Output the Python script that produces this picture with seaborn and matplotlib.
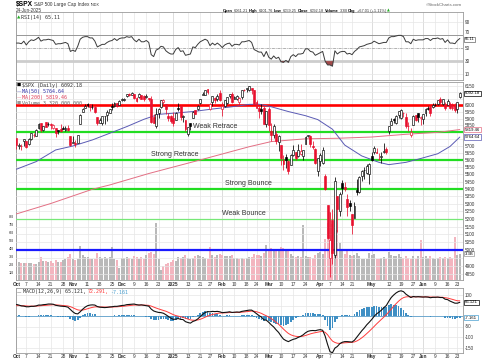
import numpy as np
import pandas as pd
import matplotlib
matplotlib.use("Agg")
import matplotlib.pyplot as plt
import seaborn as sns
from matplotlib.ticker import FixedLocator, NullLocator

# ---------------- data ----------------
start, end = "2024-10-01", "2025-06-24"
holidays = ["2024-11-28", "2024-12-25", "2025-01-01", "2025-01-09", "2025-01-20",
            "2025-02-17", "2025-04-18", "2025-05-26", "2025-06-19"]

opens = [5757, 5698, 5698, 5738, 5737, 5714, 5751, 5779, 5775, 5829, 5866, 5816, 5875, 5859, 5857, 5832, 5834, 5816, 5827, 5833, 5817, 5833, 5776,
         5723, 5725, 5722, 5863, 5947, 5977, 6009, 6003, 5986, 5989, 5912, 5870, 5870, 5918, 5924, 5945, 5993, 5992, 6015, 6004,
         6040, 6042, 6069, 6089, 6082, 6083, 6057, 6060, 6075, 6069, 6063, 6053, 6048, 5913, 5842, 5941, 5985, 6024, 6007, 5920, 5920,
         5903, 5891, 5983, 5994, 5911, 5891, 5789, 5865, 5905, 5962, 5973, 6015, 6081, 6077, 6121, 5970, 6026, 6058, 6050, 6097,
         5970, 5998, 6021, 6073, 6083, 6047, 6050, 6026, 6061, 6115, 6122, 6118, 6134, 6114, 6027, 5983, 5970, 5982, 5857,
         5969, 5812, 5782, 5785, 5726, 5705, 5604, 5624, 5594, 5564, 5635, 5654, 5632, 5646, 5631, 5718, 5776, 5771, 5701, 5679, 5527,
         5597, 5581, 5492, 5292, 4953, 5193, 4966, 5353, 5255, 5441, 5411, 5335, 5306, 5232, 5207, 5395, 5381, 5489, 5529, 5508, 5500,
         5626, 5655, 5655, 5605, 5619, 5658, 5679, 5808, 5854, 5896, 5869, 5929, 5903, 5945, 5910, 5842, 5781, 5855, 5925, 5939, 5904,
         5897, 5939, 5978, 5985, 5987, 6004, 6010, 6049, 6009, 6000, 6005, 6013, 5987, 6005, 5970, 6061.21]
highs = [5757, 5722, 5718, 5751, 5739, 5757, 5796, 5796, 5822, 5871, 5870, 5843, 5878, 5873, 5867, 5864, 5834, 5818, 5862, 5842, 5848, 5851, 5776,
         5772, 5741, 5783, 5937, 5983, 6013, 6018, 6009, 6008, 5993, 5915, 5908, 5920, 5920, 5963, 5973, 6020, 6026, 6021, 6044,
         6053, 6052, 6089, 6092, 6099, 6088, 6065, 6093, 6079, 6078, 6086, 6057, 6071, 5936, 5982, 5979, 6040, 6049, 6007, 5941, 5930,
         5949, 5950, 6021, 6000, 5928, 5891, 5837, 5871, 5960, 5964, 6006, 6051, 6100, 6119, 6128, 6018, 6070, 6063, 6087, 6120,
         6022, 6042, 6062, 6084, 6101, 6073, 6076, 6064, 6116, 6127, 6129, 6147, 6134, 6114, 6043, 5992, 6009, 5994, 5959,
         5987, 5866, 5861, 5812, 5783, 5705, 5636, 5642, 5598, 5645, 5704, 5654, 5715, 5711, 5670, 5775, 5782, 5783, 5733, 5685, 5616,
         5651, 5695, 5500, 5292, 5246, 5267, 5481, 5353, 5381, 5459, 5450, 5367, 5328, 5232, 5309, 5470, 5489, 5528, 5554, 5572, 5581,
         5659, 5700, 5684, 5647, 5655, 5721, 5691, 5847, 5906, 5906, 5925, 5958, 5969, 5953, 5939, 5878, 5829, 5924, 5929, 5943, 5923,
         5938, 5982, 5991, 5999, 6016, 6021, 6043, 6060, 6046, 6027, 6050, 6024, 6019, 6018, 6026, 6101.76]
lows = [5681, 5677, 5675, 5702, 5683, 5708, 5745, 5762, 5775, 5824, 5804, 5806, 5840, 5844, 5825, 5822, 5762, 5785, 5800, 5824, 5811, 5812, 5703,
        5723, 5696, 5722, 5862, 5947, 5977, 5986, 5960, 5975, 5942, 5853, 5866, 5850, 5860, 5883, 5944, 5963, 5986, 5984, 6004,
        6033, 6034, 6061, 6071, 6080, 6047, 6026, 6054, 6050, 6035, 6059, 6035, 5867, 5866, 5832, 5903, 5981, 6007, 5933, 5879, 5870,
        5845, 5889, 5960, 5891, 5874, 5809, 5774, 5813, 5905, 5936, 5967, 6007, 6076, 6075, 6088, 5962, 5994, 6014, 6034, 6031,
        5923, 5990, 6007, 6058, 6020, 6045, 6043, 6003, 6051, 6107, 6099, 6111, 6084, 6009, 5977, 5908, 5932, 5858, 5837,
        5810, 5733, 5759, 5712, 5667, 5565, 5529, 5546, 5505, 5563, 5628, 5598, 5622, 5633, 5603, 5718, 5765, 5695, 5682, 5573, 5489,
        5558, 5571, 5390, 5069, 4835, 4910, 4950, 5115, 5220, 5367, 5386, 5220, 5255, 5101, 5207, 5359, 5371, 5455, 5468, 5505, 5433,
        5597, 5643, 5647, 5598, 5578, 5649, 5644, 5786, 5853, 5868, 5861, 5908, 5895, 5911, 5831, 5809, 5768, 5855, 5884, 5875, 5850,
        5861, 5919, 5966, 5921, 5978, 5994, 6000, 6003, 6006, 5964, 6005, 5975, 5967, 5952, 5943, 6059.25]
closes = [5709, 5709.5, 5700, 5751, 5696, 5751, 5792, 5780, 5815, 5859, 5815, 5842, 5841, 5864, 5853, 5851, 5797, 5809, 5808, 5823, 5832, 5813, 5705,
          5729, 5712, 5782, 5929, 5973, 5996, 6001, 5984, 5985, 5949, 5871, 5893, 5917, 5917.1, 5949, 5969, 5987, 6021, 5998, 6032,
          6047, 6050, 6087, 6075, 6090, 6053, 6034, 6084, 6051.3, 6051.1, 6074, 6050, 5872, 5867, 5931, 5975, 6040, 6037, 5971, 5907, 5882,
          5869, 5942, 5975, 5909, 5918, 5827, 5836, 5843, 5950, 5937, 5997, 6049, 6086, 6119, 6101, 6012, 6068, 6039, 6071, 6041,
          5994, 6038, 6061, 6083, 6026, 6066, 6068, 6052, 6115.1, 6114.6, 6129, 6144, 6117, 6013, 5983, 5955, 5956, 5861, 5955,
          5850, 5778, 5842, 5739, 5770, 5615, 5572, 5599, 5522, 5639, 5675, 5615, 5675, 5663, 5668, 5768, 5777, 5712, 5693, 5581, 5612,
          5633, 5671, 5397, 5074, 5062, 4982, 5457, 5268, 5363, 5406, 5397, 5276, 5283, 5158, 5288, 5376, 5485, 5525, 5529, 5561, 5569,
          5604, 5687, 5650, 5607, 5631, 5664, 5660, 5844, 5886, 5892, 5916, 5958, 5964, 5940, 5845, 5842, 5802, 5922, 5889, 5912.2, 5911.7,
          5936, 5970, 5971, 5939, 6000, 6006, 6039, 6022, 6045, 5977, 6033, 5982, 5981, 5967, 6025, 6092.18]
prev_close0 = 5762.5
volumes_b = [2.7, 2.3, 2.2, 2.2, 2.1, 2.1, 2.2, 2.0, 2.0, 2.3, 2.9, 2.4, 2.4, 2.3, 2.4, 2.2, 2.5, 2.3, 2.3, 2.5, 2.7, 2.9, 3.3,
             2.6, 2.5, 2.6, 4.3, 3.2, 2.9, 2.9, 2.7, 2.6, 2.6, 3.4, 2.9, 2.8, 2.9, 2.8, 2.9, 4.1, 2.6, 2.5, 1.5,
             2.8, 2.8, 2.9, 2.8, 2.6, 3.0, 2.9, 2.7, 2.9, 2.6, 3.2, 3.4, 3.5, 3.3, 7.2, 2.6, 1.3, 1.8, 2.0, 2.1, 2.3,
             2.5, 2.4, 2.9, 2.8, 2.9, 3.1, 2.8, 2.7, 2.8, 3.0, 3.1, 3.0, 2.9, 2.8, 2.6, 4.1, 3.1, 2.9, 3.2, 3.3,
             3.2, 3.0, 3.0, 3.0, 3.1, 2.8, 2.8, 2.7, 2.8, 2.6, 2.8, 2.9, 2.9, 3.3, 3.1, 3.2, 3.0, 3.4, 4.4,
             3.8, 4.0, 3.6, 3.9, 3.7, 4.2, 4.0, 3.7, 3.6, 3.3, 3.0, 2.9, 3.0, 2.9, 6.9, 3.0, 2.9, 2.9, 2.8, 3.1, 3.4,
             3.5, 3.3, 5.2, 7.2, 8.6, 7.0, 8.3, 6.3, 4.6, 3.8, 3.3, 3.6, 3.2, 3.0, 3.2, 3.4, 3.0, 2.7, 2.6, 2.7, 3.4,
             3.2, 3.3, 2.7, 2.6, 2.8, 2.9, 2.6, 3.5, 3.2, 3.0, 3.0, 3.3, 2.9, 2.8, 3.0, 2.8, 2.6, 3.0, 2.7, 3.0, 5.0,
             2.9, 3.0, 2.8, 3.0, 2.8, 2.7, 2.8, 2.9, 2.8, 2.9, 2.8, 2.9, 2.8, 5.4, 3.1, 3.3]
rsi14 = [58, 58, 57, 61, 55, 60, 63, 62, 64, 67, 61, 63, 63, 64, 63, 62, 56, 57, 57, 58, 59, 57, 45,
         47, 45, 53, 64, 67, 68, 68, 66, 66, 61, 52, 54, 56, 56, 59, 61, 62, 65, 62, 65,
         66, 66, 68, 67, 68, 63, 60, 64, 60, 60, 62, 59, 40, 37, 47, 49, 53, 52, 46, 43, 41,
         41, 48, 51, 45, 46, 39, 40, 41, 52, 51, 56, 60, 62, 64, 62, 54, 58, 55, 58, 55,
         51, 55, 57, 58, 53, 56, 56, 55, 60, 60, 61, 62, 59, 48, 46, 44, 44, 37, 45,
         36, 33, 38, 34, 36, 29, 28, 31, 28, 37, 40, 37, 41, 41, 42, 49, 49, 45, 44, 39, 41,
         43, 45, 30, 24, 24, 22, 46, 41, 44, 45, 45, 41, 42, 40, 45, 48, 52, 53, 54, 56, 57,
         58, 61, 59, 57, 58, 59, 59, 66, 68, 68, 69, 70, 70, 68, 60, 60, 57, 64, 62, 63, 63,
         63, 65, 65, 62, 65, 65, 66, 64, 65, 59, 63, 58, 58, 57, 62, 65.11]
macd_line = [55, 52, 48, 47, 44, 44, 46, 46, 48, 52, 52, 54, 55, 57, 57, 56, 51, 49, 47, 46, 45, 42, 31,
             20, 12, 10, 20, 32, 42, 49, 52, 53, 52, 45, 42, 41, 40, 41, 43, 44, 46, 46, 48,
             50, 51, 54, 55, 56, 57, 54, 52, 53, 51, 49, 47, 33, 24, 20, 17, 16, 13, 6, -2, -10,
             -16, -15, -12, -16, -17, -27, -31, -34, -26, -22, -14, -3, 8, 16, 21, 20, 22, 21, 22, 20,
             16, 17, 18, 20, 17, 18, 19, 18, 22, 24, 26, 28, 28, 20, 11, 2, -5, -18, -20,
             -30, -42, -52, -66, -78, -95, -110, -117, -122, -116, -111, -108, -102, -97, -90, -80, -73, -70, -69, -70, -67,
             -65, -68, -95, -135, -170, -175, -153, -145, -132, -125, -122, -122, -123, -124, -115, -100, -85, -70, -57, -42, -30,
             -17, -2, 10, 18, 28, 40, 50, 70, 88, 100, 110, 117, 120, 116, 104, 96, 88, 93, 91, 92, 91,
             90, 91, 90, 87, 89, 89, 90, 88, 88, 80, 78, 71, 66, 61, 61, 65.121]
macd_signal = [49, 49.6, 49.3, 48.8, 47.9, 47.1, 46.9, 46.7, 47.0, 48.0, 48.8, 49.8, 50.9, 52.1, 53.1, 53.7, 53.1, 52.3, 51.2, 50.2, 49.2, 47.7, 44.4,
               39.5, 34.0, 29.2, 27.4, 28.3, 31.0, 34.6, 38.1, 41.1, 43.3, 43.6, 43.3, 42.8, 42.2, 42.0, 42.2, 42.6, 43.3, 43.8, 44.6,
               45.7, 46.8, 48.2, 49.6, 50.9, 52.1, 52.5, 52.4, 52.5, 52.2, 51.6, 50.7, 47.2, 42.5, 38.0, 33.8, 30.2, 26.8, 22.6, 17.7, 12.2,
               6.5, 2.2, -0.6, -3.7, -6.4, -10.5, -14.6, -18.5, -20.0, -20.4, -19.1, -15.9, -11.1, -5.7, -0.4, 3.7, 7.4, 10.1, 12.5, 14.0,
               14.4, 14.9, 15.5, 16.4, 16.5, 16.8, 17.2, 17.4, 18.3, 19.4, 20.7, 22.2, 23.4, 22.7, 20.4, 16.7, 12.4, 6.3, 1.0,
               -5.2, -12.6, -20.5, -29.6, -39.3, -50.4, -62.3, -73.2, -83.0, -89.6, -93.9, -96.7, -97.8, -97.6, -96.1, -92.9, -88.9, -85.1, -81.9, -79.5, -77.0,
               -74.6, -73.3, -77.6, -89.1, -105.3, -119.2, -126.0, -129.8, -130.2, -129.2, -127.7, -126.6, -125.9, -125.5, -123.4, -118.7, -112.0, -103.6, -94.3, -83.8, -73.1,
               -61.8, -49.9, -37.9, -26.7, -15.8, -4.6, 6.3, 19.1, 32.8, 46.3, 59.0, 70.6, 80.5, 87.6, 90.9, 91.9, 91.1, 91.5, 91.4, 91.5, 91.4,
               91.1, 91.1, 90.9, 90.1, 89.9, 89.7, 89.8, 89.4, 89.1, 87.3, 85.4, 82.5, 79.2, 75.6, 72.6, 72.291]
ma50_day = [0, 8, 16, 23, 31, 38, 45, 52, 58, 67, 72, 80, 88, 95, 99, 104, 111, 118, 123, 129, 134, 141, 148, 152, 159, 165, 172, 177, 181]
ma50_val = [5536, 5589, 5672, 5700, 5744, 5792, 5841, 5895, 5932, 5945, 5953, 5972, 5989, 6007, 6008, 5989, 5953, 5922, 5893, 5822, 5707, 5629,
            5584, 5568, 5584, 5611, 5645, 5697, 5764.64]
ma200_day = [0, 14, 31, 38, 54, 75, 95, 104, 118, 131, 145, 159, 172, 181]
ma200_val = [5233, 5302, 5398, 5427, 5506, 5601, 5695, 5732, 5752, 5756, 5765, 5785, 5799, 5819.46]

tick_dates = ["2024-10-01", "2024-10-07", "2024-10-14", "2024-10-21", "2024-10-28", "2024-11-01", "2024-11-11", "2024-11-18",
              "2024-11-25", "2024-12-02", "2024-12-09", "2024-12-16", "2024-12-23", "2025-01-02", "2025-01-13", "2025-01-21",
              "2025-01-27", "2025-02-03", "2025-02-10", "2025-02-18", "2025-02-24", "2025-03-03", "2025-03-10", "2025-03-17",
              "2025-03-24", "2025-04-01", "2025-04-07", "2025-04-14", "2025-04-21", "2025-05-01", "2025-05-12", "2025-05-19",
              "2025-05-27", "2025-06-02", "2025-06-09", "2025-06-16", "2025-06-23"]
tick_labels = ["Oct", "7", "14", "21", "28", "Nov", "11", "18", "25", "Dec", "9", "16", "23", "2025", "13", "21", "27",
               "Feb", "10", "18", "24", "Mar", "10", "17", "24", "Apr", "7", "14", "21", "May", "12", "19", "27",
               "Jun", "9", "16", "23"]

level_prices = [6000, 5800, 5600, 5400, 5200, 5000]
level_names = ["", "Weak Retrace", "Strong Retrace", "Strong Bounce", "Weak Bounce", ""]
price_ticks = list(range(4850, 6151, 50))
price_hidden = [6100, 6050, 5800, 5750, 4950]      # covered by value boxes in the reference
rsi_ticks = [10, 30, 50, 70, 90]
macd_ticks = [100, 50, 0, -50, -100, -150]
macd_hidden = [50, 0]
vol_ticks = [1, 2, 3, 4, 5, 6, 7, 8]

# ---------------- derived ----------------
dates = pd.bdate_range(start, end)
dates = dates[~dates.isin(pd.to_datetime(holidays))]
n = len(dates)
pos = {d: i for i, d in enumerate(dates)}
tick_pos = [pos[pd.Timestamp(d)] for d in tick_dates]
is_month = [not lab.isdigit() or lab == "2025" for lab in tick_labels]

o = np.array(opens, float); h = np.array(highs, float)
l = np.array(lows, float); c = np.array(closes, float)
prev = np.concatenate([[prev_close0], c[:-1]])
x = np.arange(n)
RED = "#e8102e"
col = np.where(c >= prev, "#000000", RED)
hollow = c >= o
vol = np.array(volumes_b)
vol_col = np.where(c >= prev, "#b9b9b9", "#f3b5bf")
macd = np.array(macd_line); sig = np.array(macd_signal)
hist = macd - sig

# ---------------- figure ----------------
sns.set_theme(style="white")
plt.rcParams['font.family'] = ['Liberation Sans', 'DejaVu Sans']
W, H = 485, 360
fig = plt.figure(figsize=(W / 100, H / 100), dpi=100)
fig.patch.set_facecolor("white")
L, R = 16, 463


def rect(t, b):
    return [L / W, 1 - b / H, (R - L) / W, (b - t) / H]


XL = (-0.2, 182.3)
GRID = "#e6e6e6"
MGRID = "#cfcfcf"
TXT = "#333333"
FS = 3.3


def style_axis(ax):
    ax.set_xlim(*XL)
    for s in ax.spines.values():
        s.set_color("#9a9a9a"); s.set_linewidth(0.6)
    ax.tick_params(axis="both", length=0, labelsize=FS, colors=TXT, pad=1.5)
    for tp, m in zip(tick_pos, is_month):
        ax.axvline(tp, color=MGRID if m else GRID, lw=0.5, zorder=0)


MACD_TOP, MACD_BOT, MACD_ZERO, MACD_PX = 288, 352.5, 316.0, 0.21
ax_rsi = fig.add_axes(rect(12, 80))
ax_vol = fig.add_axes(rect(82, 280))
ax_px = fig.add_axes(rect(82, 280))
ax_macd = fig.add_axes(rect(MACD_TOP, MACD_BOT))
ax_vol.set_zorder(1); ax_px.set_zorder(2); ax_px.patch.set_alpha(0)

# ---- RSI ----
style_axis(ax_rsi)
ax_rsi.set_ylim(0.6, 106.3)
for v in rsi_ticks:
    ax_rsi.axhline(v, color=GRID, lw=0.5, zorder=0)
ax_rsi.axhline(30, color="#cdcdcd", lw=2.0, zorder=1)
ax_rsi.axhline(70, color="#8a8a8a", lw=0.6, zorder=1)
ax_rsi.axhline(50, color="#999999", lw=0.5, ls=(0, (4, 1.5, 1, 1.5)), zorder=1)
r = np.array(rsi14, float)
ax_rsi.fill_between(x, r, 30, where=r < 30, interpolate=True, color="#a24a4a", zorder=2, lw=0)
sns.lineplot(x=x, y=r, ax=ax_rsi, color="#3a3a3a", linewidth=0.7, zorder=3)
ax_rsi.set_xticks([]); ax_rsi.set_xlabel(""); ax_rsi.set_ylabel("")
ax_rsi.yaxis.tick_right()
ax_rsi.set_yticks(rsi_ticks)
ax_rsi.set_yticklabels([str(v) for v in rsi_ticks])
for t in ax_rsi.get_yticklabels():
    if t.get_text() == "70":
        t.set_va("bottom")

# ---- volume (under price) ----
style_axis(ax_vol)
ax_vol.set_ylim(0, (280 - 82) / 7.95)
ax_vol.bar(x, vol, width=0.82, color=vol_col, lw=0, zorder=1)
ax_vol.set_xticks([])
ax_vol.set_yticks(vol_ticks)
ax_vol.set_yticklabels([f"{v}B" for v in vol_ticks])
ax_vol.yaxis.tick_left()
ax_vol.tick_params(axis="y", labelsize=3.0, pad=1.5)

# ---- price ----
ax_px.set_yscale("log")
ax_px.set_ylim(4815, 6178.7)
ax_px.set_xlim(*XL)
for s in ax_px.spines.values():
    s.set_visible(False)
for v in price_ticks:
    ax_px.axhline(v, color=GRID, lw=0.5, zorder=0)
ax_px.yaxis.set_major_locator(FixedLocator(price_ticks))
ax_px.yaxis.set_minor_locator(NullLocator())
ax_px.set_yticklabels(["" if v in price_hidden else str(v) for v in price_ticks])
ax_px.yaxis.tick_right()
ax_px.tick_params(axis="both", length=0, labelsize=FS, colors=TXT, pad=1.5)

# annotation levels
lv_style = {6000: ("#ff0000", 1.9), 5800: ("#22dd22", 1.6), 5600: ("#22dd22", 1.6),
            5400: ("#22dd22", 1.6), 5200: ("#77e877", 0.9), 5000: ("#1a1aff", 1.6)}
for p in level_prices:
    cc, lw = lv_style[p]
    ax_px.axhline(p, color=cc, lw=lw, zorder=2)
lab_x = {"Weak Retrace": 72, "Strong Retrace": 55, "Strong Bounce": 85, "Weak Bounce": 84}
for p, name in zip(level_prices, level_names):
    if name:
        ax_px.text(lab_x[name], p * 1.0028, name, fontsize=5.0, color=TXT, ha="left", va="bottom", zorder=3)

# MAs
sns.lineplot(x=ma200_day, y=ma200_val, ax=ax_px, color="#e36f84", linewidth=0.7, zorder=3)
sns.lineplot(x=ma50_day, y=ma50_val, ax=ax_px, color="#5a5ab4", linewidth=0.7, zorder=3)

# candles
ax_px.vlines(x, l, h, colors=col, lw=0.55, zorder=4)
lo = np.minimum(o, c); hi = np.maximum(o, c)
hi = np.where(hi - lo < 1.5, lo + 1.5, hi)
face = np.where(hollow, "white", col)
ax_px.bar(x, hi - lo, bottom=lo, width=0.78, color=face, edgecolor=col, linewidth=0.45, zorder=5)
ax_px.set_xticks(tick_pos)
ax_px.set_xticklabels(tick_labels)
for t, m in zip(ax_px.get_xticklabels(), is_month):
    t.set_fontweight("bold" if m else "normal")
ax_px.tick_params(axis="x", pad=1.2, labelsize=3.4)
ax_px.set_xlabel(""); ax_px.set_ylabel("")

# ---- MACD ----
style_axis(ax_macd)
ax_macd.set_ylim((MACD_ZERO - MACD_BOT) / MACD_PX, (MACD_ZERO - MACD_TOP) / MACD_PX)
for v in macd_ticks:
    ax_macd.axhline(v, color=GRID, lw=0.5, zorder=0)
ax_macd.bar(x, hist, width=0.72, color="#3f8fc4", lw=0, zorder=2)
ax_macd.axhline(0, color="#3f8fc4", lw=0.5, zorder=2)
sns.lineplot(x=x, y=sig, ax=ax_macd, color="#ff3b3b", linewidth=0.7, zorder=3)
sns.lineplot(x=x, y=macd, ax=ax_macd, color="#111111", linewidth=0.8, zorder=4)
ax_macd.yaxis.tick_right()
ax_macd.set_yticks(macd_ticks)
ax_macd.set_yticklabels(["" if v in macd_hidden else str(v) for v in macd_ticks])
ax_macd.set_xticks(tick_pos)
ax_macd.set_xticklabels(tick_labels)
for t, m in zip(ax_macd.get_xticklabels(), is_month):
    t.set_fontweight("bold" if m else "normal")
ax_macd.tick_params(axis="x", pad=0.8, labelsize=3.4)
ax_macd.set_xlabel(""); ax_macd.set_ylabel("")


# ---------------- texts ----------------
def ftext(px, py, s, **kw):
    kw.setdefault("va", "center")
    kw.setdefault("ha", "left")
    kw.setdefault("color", TXT)
    return fig.text(px / W, 1 - py / H, s, **kw)


renderer = fig.canvas.get_renderer()


def seq(px, py, pieces, gap=1.2):
    for s, kw in pieces:
        t = ftext(px, py, s, **kw)
        px += t.get_window_extent(renderer=renderer).width + gap


seq(16, 4.5, [("$SPX", dict(fontsize=4.8, fontweight="bold", color="black")),
              ("S&P 500 Large Cap Index", dict(fontsize=3.4)),
              ("INDX", dict(fontsize=2.7))])
ftext(16, 10.5, "24-Jun-2025", fontsize=3.3)
ftext(462, 4.5, "©StockCharts.com", fontsize=3.2, ha="right", color="#666666")
HF = 2.8
B = dict(fontsize=HF, fontweight="bold", color="black")
N = dict(fontsize=HF)
seq(223, 11, [("Open", B), ("6061.21", N), ("High", B), ("6101.76", N), ("Low", B), ("6059.25", N),
              ("Close", B), ("6092.18", N), ("Volume", B), ("3.3B", N), ("Chg", B), ("+67.01 (+1.11%)", N),
              ("▲", dict(fontsize=2.6, color="#22aa22", family="DejaVu Sans"))], gap=1.0)

MONO = "DejaVu Sans Mono"
seq(17, 17.3, [("▲", dict(fontsize=3.2, color="#22aa22", family="DejaVu Sans")),
               ("RSI(14) 65.11", dict(fontsize=3.6, family=MONO))], gap=0.3)
seq(17, 85, [("■", dict(fontsize=3.2, color="black", family="DejaVu Sans")),
             ("$SPX (Daily) 6092.18", dict(fontsize=3.6, family=MONO))], gap=0.5)
seq(17, 91, [("—", dict(fontsize=3.2, color="#3333aa", family="DejaVu Sans")),
             ("MA(50) 5764.64", dict(fontsize=3.6, family=MONO, color="#3333aa"))], gap=0.3)
seq(17, 97, [("—", dict(fontsize=3.2, color="#e0405a", family="DejaVu Sans")),
             ("MA(200) 5819.46", dict(fontsize=3.6, family=MONO, color="#e0405a"))], gap=0.3)
seq(17, 103, [("■", dict(fontsize=3.2, color="#999999", family="DejaVu Sans")),
              ("Volume 3,320,000,000", dict(fontsize=3.6, family=MONO, color="#666666"))], gap=0.5)
seq(17, 292, [("—", dict(fontsize=3.2, color="black", family="DejaVu Sans")),
              ("MACD(12,26,9) 65.121,", dict(fontsize=3.6, family=MONO, color="#333333")),
              ("72.291,", dict(fontsize=3.6, family=MONO, color="#ff3b3b")),
              ("-7.161", dict(fontsize=3.6, family=MONO, color="#4aa0d0"))], gap=1.5)


# value boxes on the right
def vbox(ax, yv, s, ec, fs=3.1, dy=0):
    ax.annotate(s, xy=(1.0, yv), xycoords=("axes fraction", "data"), xytext=(1.5, dy),
                textcoords="offset points", fontsize=fs, color="black", va="center", ha="left",
                bbox=dict(boxstyle="square,pad=0.15", fc="white", ec=ec, lw=0.5), annotation_clip=False, zorder=10)


vbox(ax_px, 6092.18, "6092.18", "black")
vbox(ax_px, 5819.46, "5819.46", "#e36f84")
vbox(ax_px, 5764.64, "5764.64", "#5a5ab4")
vbox(ax_vol, 3.32, "3.3B", "#999999")
vbox(ax_rsi, 65.11, "65.11", "#666666", fs=2.9, dy=-0.6)
vbox(ax_macd, 65.121, "65.121", "black")
vbox(ax_macd, -7.161, "-7.161", "#4aa0d0")

fig.savefig("out.png", dpi=100, facecolor="white")
